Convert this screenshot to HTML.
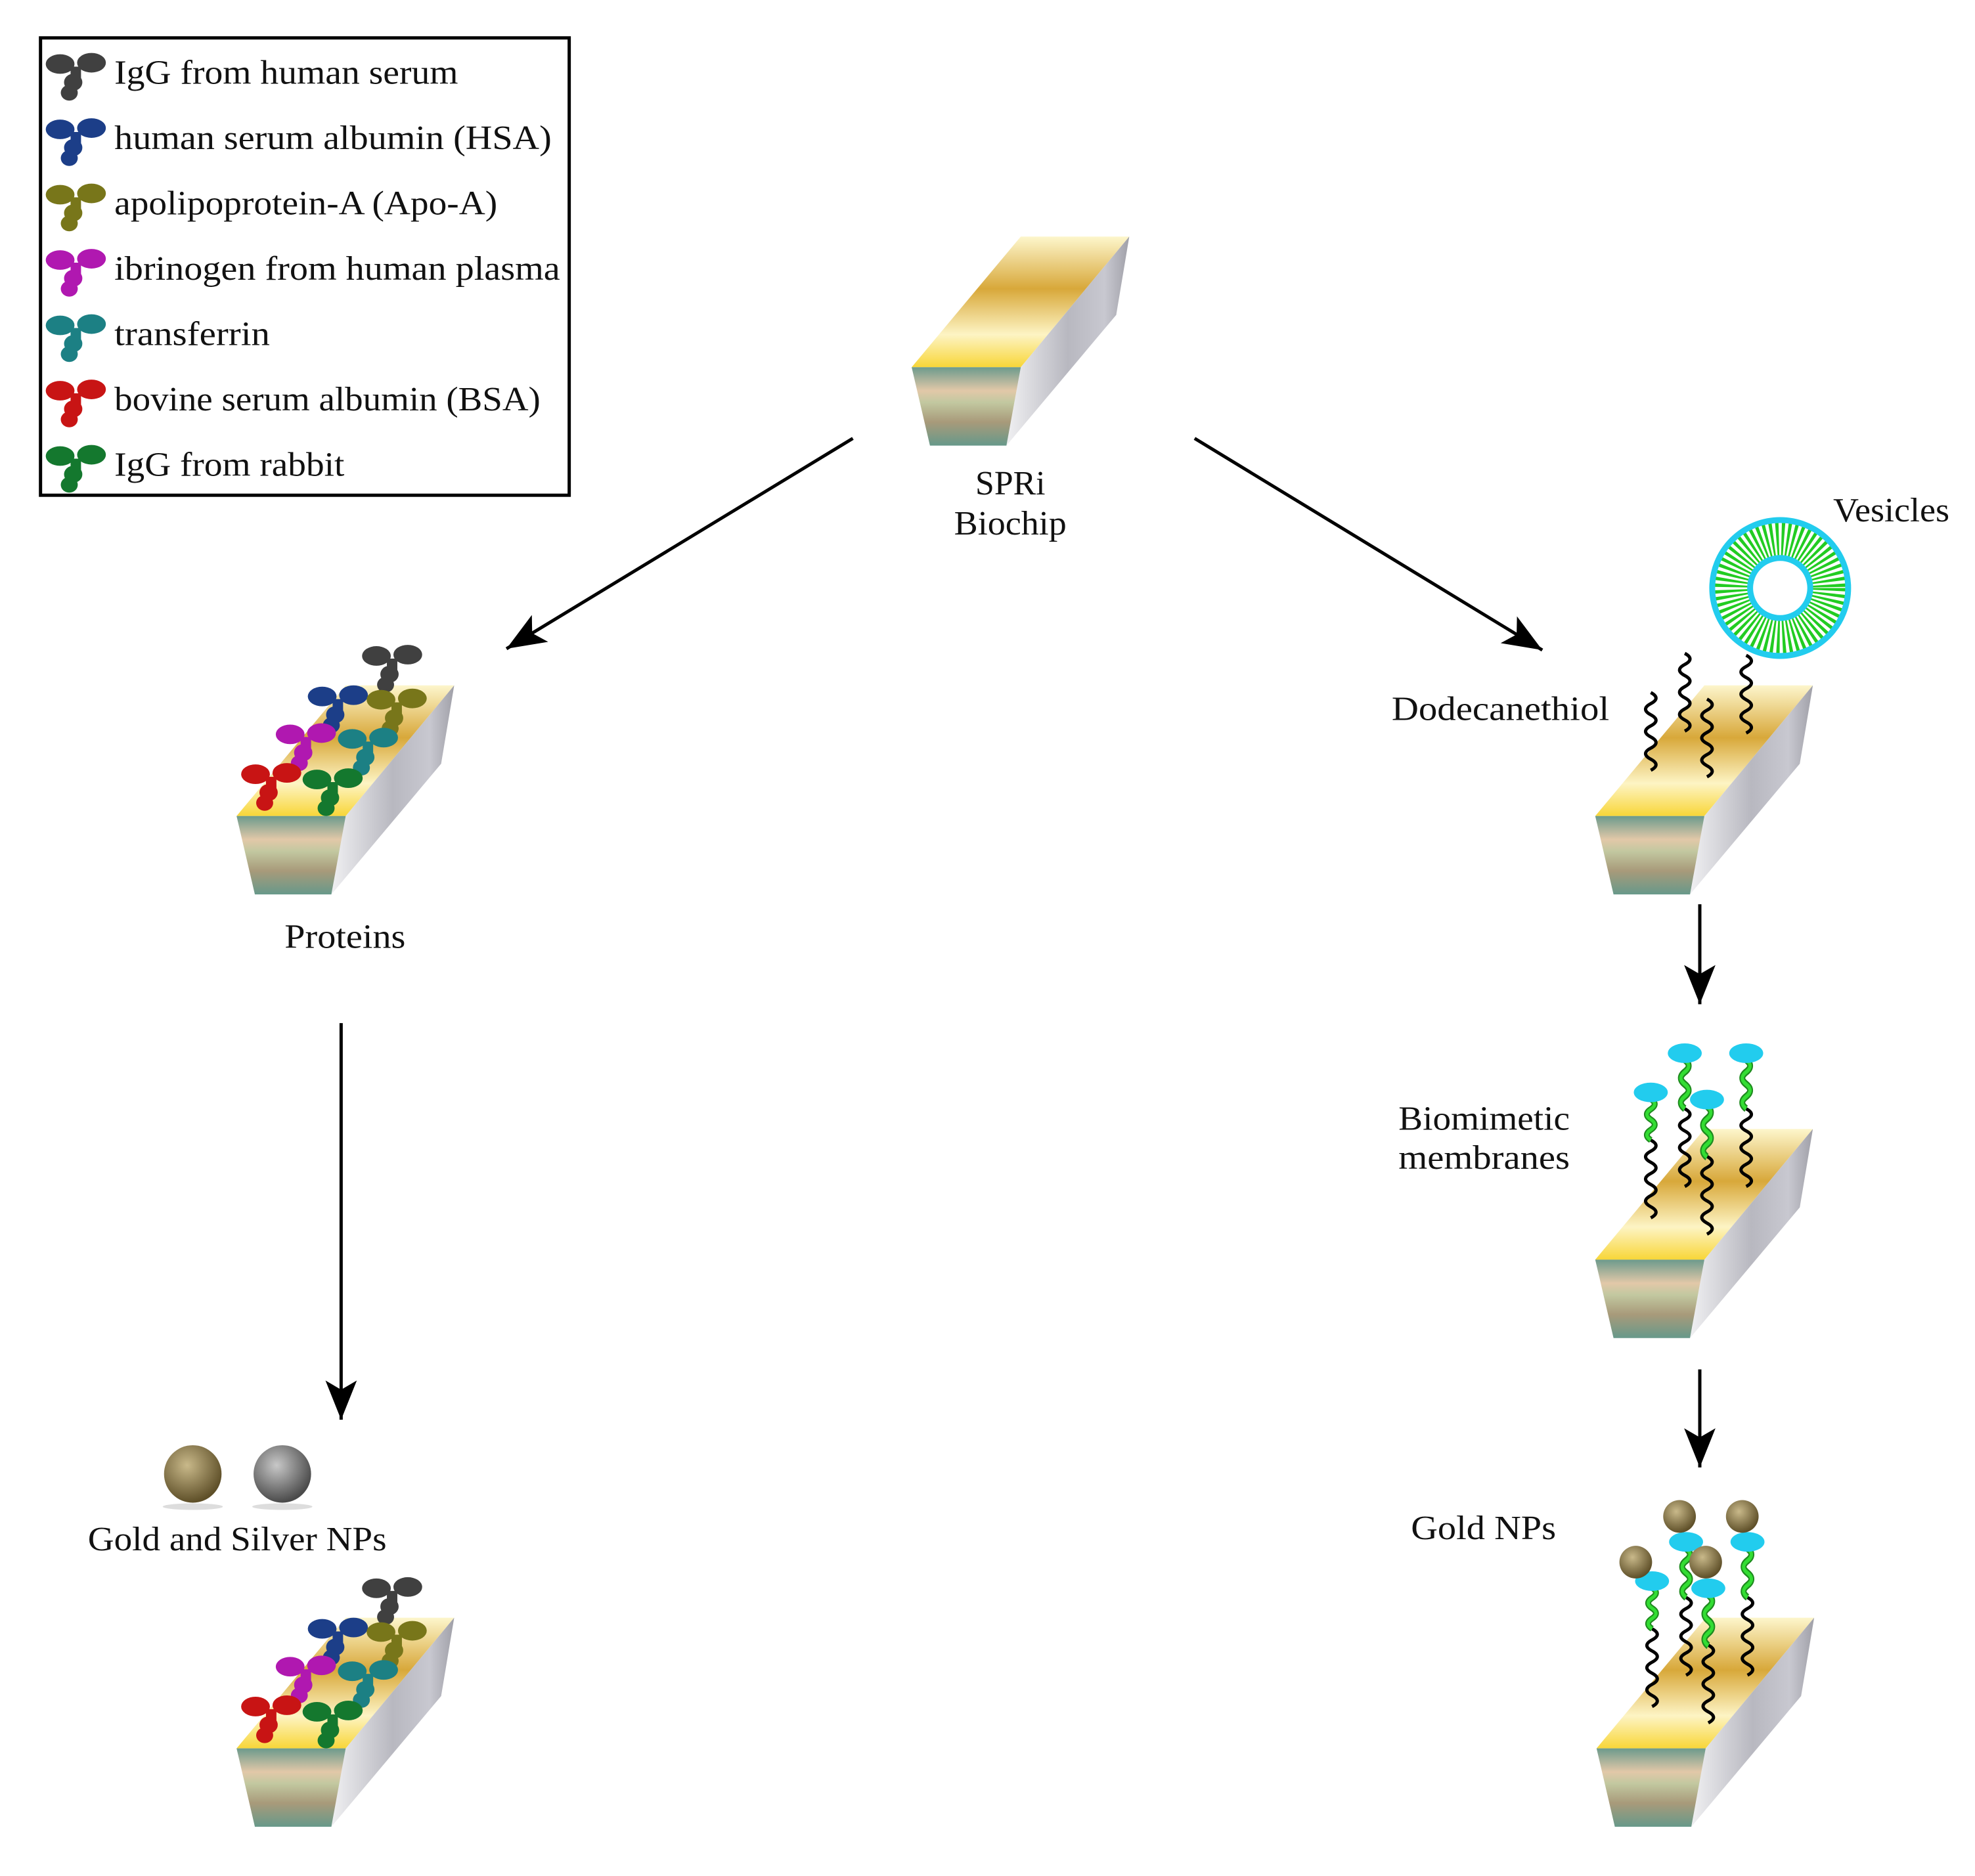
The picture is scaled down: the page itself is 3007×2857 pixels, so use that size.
<!DOCTYPE html>
<html><head><meta charset="utf-8"><style>
html,body{margin:0;padding:0;background:#fff}
svg{display:block}
text{font-family:"Liberation Serif",serif;fill:#111}
</style></head><body>
<svg width="3007" height="2857" viewBox="0 0 3007 2857" xmlns="http://www.w3.org/2000/svg">
<defs>
<linearGradient id="gTop" x1="0" y1="0" x2="0" y2="1">
<stop offset="0" stop-color="#fdf6cc"/><stop offset="0.4" stop-color="#d8a83a"/><stop offset="0.75" stop-color="#fdf4c4"/><stop offset="1" stop-color="#f8d638"/></linearGradient>
<linearGradient id="gFront" x1="0" y1="0" x2="0" y2="1">
<stop offset="0" stop-color="#6c9a8c"/><stop offset="0.3" stop-color="#e2c8a8"/><stop offset="0.45" stop-color="#c2c8a0"/><stop offset="0.7" stop-color="#a89a7a"/><stop offset="1" stop-color="#67998a"/></linearGradient>
<linearGradient id="gSide" x1="0" y1="0" x2="1" y2="0">
<stop offset="0" stop-color="#f0f0f2"/><stop offset="0.5" stop-color="#b8b8c0"/><stop offset="0.8" stop-color="#c8c8d0"/><stop offset="1" stop-color="#a0a0a8"/></linearGradient>
<radialGradient id="gGold" cx="0.4" cy="0.35" r="0.65"><stop offset="0" stop-color="#c9b98a"/><stop offset="1" stop-color="#5e4f28"/></radialGradient>
<radialGradient id="gSilver" cx="0.4" cy="0.35" r="0.65"><stop offset="0" stop-color="#c8c8c8"/><stop offset="1" stop-color="#4a4a4a"/></radialGradient>
<marker id="ah" markerUnits="userSpaceOnUse" markerWidth="80" markerHeight="60" viewBox="-62 -30 64 60" refX="0" refY="0" orient="auto">
<path d="M0,0 L-60,-24 L-46,0 L-60,24 Z" fill="#000"/></marker>
<g id="chip">
<polygon points="0,0 167,0 333,-200 167,-200" fill="url(#gTop)"/>
<polygon points="167,0 333,-200 313,-80 145,120" fill="url(#gSide)"/>
<polygon points="0,0 167,0 145,120 28,120" fill="url(#gFront)"/>
</g>
<g id="ab">
<ellipse cx="-24" cy="-14" rx="22" ry="15"/>
<ellipse cx="24" cy="-16" rx="22" ry="15"/>
<rect x="-8" y="-10" width="16" height="24"/>
<ellipse cx="-4" cy="14" rx="14" ry="13"/>
<ellipse cx="-10" cy="30" rx="13" ry="12"/>
</g>
<path id="wave" d="M0,0 q16,8.5 0,17 q-16,8.5 0,17 q16,8.5 0,17 q-16,8.5 0,17 q16,8.5 0,17 q-16,8.5 0,17 q16,8.5 0,17" fill="none" stroke="#000" stroke-width="5"/>
<path id="gwave" d="M0,0 q12,7.5 0,15 q-12,7.5 0,15 q12,7.5 0,15 q-12,7.5 0,15" fill="none" stroke="#1e8a1e" stroke-width="9"/>
<path id="gwave2" d="M0,0 q12,7.5 0,15 q-12,7.5 0,15 q12,7.5 0,15 q-12,7.5 0,15" fill="none" stroke="#33dd33" stroke-width="5"/>
<g id="prot">
<use href="#ab" transform="translate(238,-231)" fill="#404040"/>
<use href="#ab" transform="translate(155,-169)" fill="#1c3e88"/>
<use href="#ab" transform="translate(245,-164)" fill="#78761a"/>
<use href="#ab" transform="translate(106,-111)" fill="#b018b0"/>
<use href="#ab" transform="translate(201,-104)" fill="#1c8084"/>
<use href="#ab" transform="translate(53,-50)" fill="#c81414"/>
<use href="#ab" transform="translate(147,-42)" fill="#14782e"/>
</g>
<g id="mem">
<use href="#gwave"/><use href="#gwave2"/>
</g>
</defs>
<g transform="scale(0.995)">
<!-- Legend -->
<rect x="62" y="58" width="809" height="700" fill="none" stroke="#000" stroke-width="5"/>
<use href="#ab" transform="translate(116,112)" fill="#404040"/>
<use href="#ab" transform="translate(116,212)" fill="#1c3e88"/>
<use href="#ab" transform="translate(116,312)" fill="#78761a"/>
<use href="#ab" transform="translate(116,412)" fill="#b018b0"/>
<use href="#ab" transform="translate(116,512)" fill="#1c8084"/>
<use href="#ab" transform="translate(116,612)" fill="#c81414"/>
<use href="#ab" transform="translate(116,712)" fill="#14782e"/>
<g font-size="52">
<text x="175" y="128" textLength="526" lengthAdjust="spacingAndGlyphs">IgG from human serum</text>
<text x="175" y="228" textLength="669" lengthAdjust="spacingAndGlyphs">human serum albumin (HSA)</text>
<text x="175" y="328" textLength="586" lengthAdjust="spacingAndGlyphs">apolipoprotein-A (Apo-A)</text>
<text x="175" y="428" textLength="682" lengthAdjust="spacingAndGlyphs">ibrinogen from human plasma</text>
<text x="175" y="528" textLength="238" lengthAdjust="spacingAndGlyphs">transferrin</text>
<text x="175" y="628" textLength="652" lengthAdjust="spacingAndGlyphs">bovine serum albumin (BSA)</text>
<text x="175" y="728" textLength="352" lengthAdjust="spacingAndGlyphs">IgG from rabbit</text>
</g>

<use href="#chip" transform="translate(1395,562)"/>
<g font-size="52" text-anchor="middle">
<text x="1546" y="757">SPRi</text>
<text x="1546" y="818" textLength="172" lengthAdjust="spacingAndGlyphs">Biochip</text>
<text x="528" y="1451" textLength="185" lengthAdjust="spacingAndGlyphs">Proteins</text>
<text x="363" y="2373" textLength="457" lengthAdjust="spacingAndGlyphs">Gold and Silver NPs</text>
<text x="2894" y="798" textLength="178" lengthAdjust="spacingAndGlyphs">Vesicles</text>
<text x="2296" y="1102" textLength="333" lengthAdjust="spacingAndGlyphs">Dodecanethiol</text>
<text x="2271" y="1729" textLength="262" lengthAdjust="spacingAndGlyphs">Biomimetic</text>
<text x="2271" y="1789" textLength="262" lengthAdjust="spacingAndGlyphs">membranes</text>
<text x="2270" y="2356" textLength="222" lengthAdjust="spacingAndGlyphs">Gold NPs</text>
</g>

<g stroke="#000" stroke-width="5" marker-end="url(#ah)">
<line x1="1305" y1="671" x2="775" y2="993"/>
<line x1="1828" y1="671" x2="2360" y2="995"/>
<line x1="522" y1="1566" x2="522" y2="2173"/>
<line x1="2601" y1="1384" x2="2601" y2="1537"/>
<line x1="2601" y1="2096" x2="2601" y2="2246"/>
</g>

<use href="#chip" transform="translate(362,1249)"/>
<use href="#prot" transform="translate(362,1249)"/>
<use href="#chip" transform="translate(362,2676)"/>
<use href="#prot" transform="translate(362,2676)"/>

<ellipse cx="295" cy="2306" rx="46" ry="5" fill="#ddd"/>
<ellipse cx="432" cy="2306" rx="46" ry="5" fill="#ddd"/>
<circle cx="295" cy="2256" r="44" fill="url(#gGold)"/>
<circle cx="432" cy="2256" r="44" fill="url(#gSilver)"/>

<use href="#chip" transform="translate(2441,1249)"/>
<use href="#wave" transform="translate(2526,1060)"/>
<use href="#wave" transform="translate(2578,1000)"/>
<use href="#wave" transform="translate(2612,1070)"/>
<use href="#wave" transform="translate(2672,1003)"/>
<circle cx="2724" cy="900" r="76" fill="none" stroke="#22cc22" stroke-width="52" stroke-dasharray="4 4"/>
<circle cx="2724" cy="900" r="104" fill="none" stroke="#22ccee" stroke-width="9"/>
<circle cx="2724" cy="900" r="46" fill="none" stroke="#22ccee" stroke-width="9"/>

<use href="#chip" transform="translate(2441,1928)"/>
<use href="#wave" transform="translate(2526,1745)"/>
<use href="#wave" transform="translate(2578,1697)"/>
<use href="#wave" transform="translate(2612,1770)"/>
<use href="#wave" transform="translate(2672,1697)"/>
<use href="#mem" transform="translate(2526,1682) scale(1,1.05)"/>
<use href="#mem" transform="translate(2578,1622) scale(1,1.25)"/>
<use href="#mem" transform="translate(2612,1693) scale(1,1.3)"/>
<use href="#mem" transform="translate(2672,1622) scale(1,1.25)"/>
<g fill="#22ccee">
<ellipse cx="2526" cy="1672" rx="26" ry="15"/>
<ellipse cx="2578" cy="1612" rx="26" ry="15"/>
<ellipse cx="2612" cy="1683" rx="26" ry="15"/>
<ellipse cx="2672" cy="1612" rx="26" ry="15"/>
</g>

<use href="#chip" transform="translate(2443,2676)"/>
<use href="#wave" transform="translate(2528,2493)"/>
<use href="#wave" transform="translate(2580,2445)"/>
<use href="#wave" transform="translate(2614,2518)"/>
<use href="#wave" transform="translate(2674,2445)"/>
<use href="#mem" transform="translate(2528,2430) scale(1,1.05)"/>
<use href="#mem" transform="translate(2580,2370) scale(1,1.25)"/>
<use href="#mem" transform="translate(2614,2441) scale(1,1.3)"/>
<use href="#mem" transform="translate(2674,2370) scale(1,1.25)"/>
<g fill="#22ccee">
<ellipse cx="2528" cy="2420" rx="26" ry="15"/>
<ellipse cx="2580" cy="2360" rx="26" ry="15"/>
<ellipse cx="2614" cy="2431" rx="26" ry="15"/>
<ellipse cx="2674" cy="2360" rx="26" ry="15"/>
</g>
<g fill="url(#gGold)">
<circle cx="2503" cy="2391" r="25"/>
<circle cx="2570" cy="2321" r="25"/>
<circle cx="2610" cy="2391" r="25"/>
<circle cx="2666" cy="2321" r="25"/>
</g>
</g>
</svg>
</body></html>
